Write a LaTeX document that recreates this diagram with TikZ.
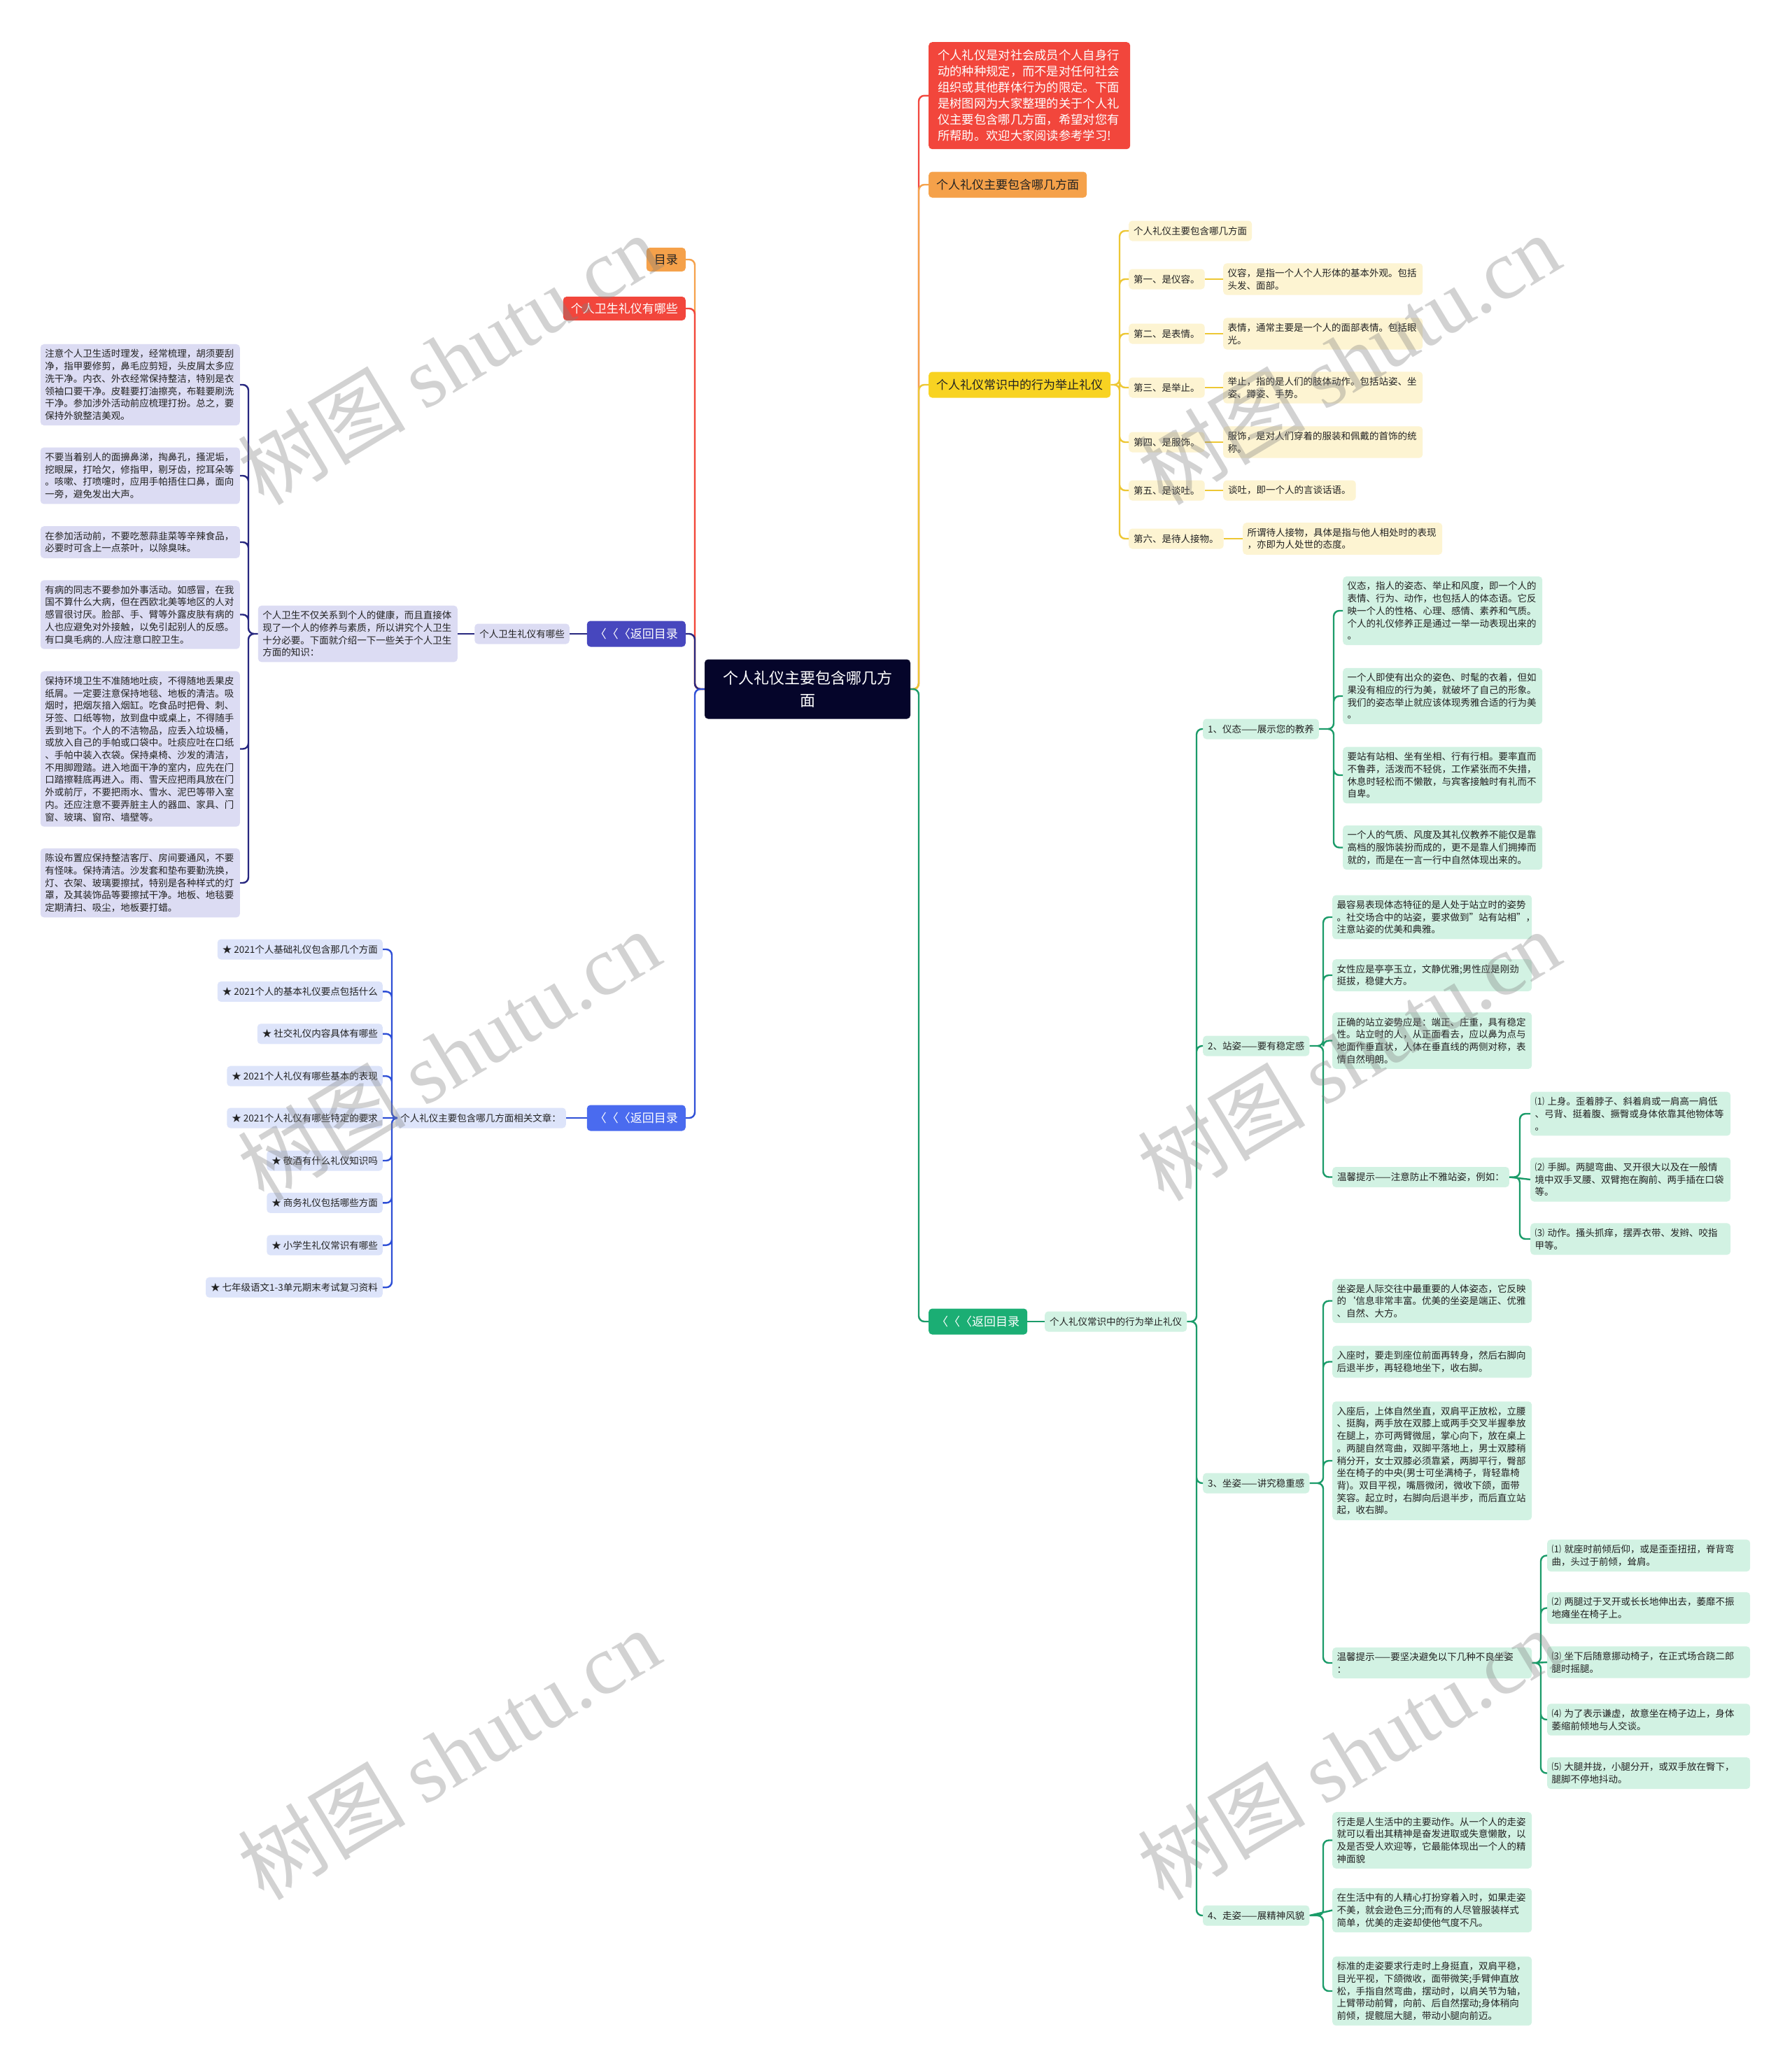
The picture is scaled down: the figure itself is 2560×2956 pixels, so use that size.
\documentclass[tikz,border=0pt]{standalone}
\usepackage{fontspec}
\setmainfont{Noto Sans CJK SC}
\newfontfamily\wmfont{Liberation Serif}
\usepackage{tikz}

\definecolor{rootbg}{HTML}{05052A}
\definecolor{redbg}{HTML}{F2463C}
\definecolor{orangebg}{HTML}{F5A14A}
\definecolor{yellowbg}{HTML}{F8D322}
\definecolor{yellowline}{HTML}{EDC734}
\definecolor{yellowpale}{HTML}{FDF4D2}
\definecolor{greenbg}{HTML}{1BAE74}
\definecolor{greenline}{HTML}{1B9B69}
\definecolor{greenpale}{HTML}{D2F2E3}
\definecolor{indigobg}{HTML}{4747BE}
\definecolor{indigoline}{HTML}{27277F}
\definecolor{indigopale}{HTML}{DCDCF3}
\definecolor{bluebg}{HTML}{4A6BEF}
\definecolor{blueline}{HTML}{2E4FD6}
\definecolor{bluepale}{HTML}{DDE4FA}
\definecolor{inkdark}{HTML}{222222}

\tikzset{
  box/.style={rounded corners=5pt, inner xsep=7pt, inner ysep=7.5pt, text=inkdark,
    font=\fontsize{13.5}{17.7}\selectfont, minimum height=29pt},
  para/.style={box, text width=272pt, align=left, inner xsep=6.5pt},
  mainbox/.style={rounded corners=5pt, inner xsep=11pt, text=inkdark,
    font=\fontsize{17}{21}\selectfont, minimum height=37pt},
  link/.style={line width=2.4pt, rounded corners=8pt},
  wmark/.style={rotate=31, text=black!50, text opacity=0.35, font=\fontsize{120}{120}\selectfont}
}

\begin{document}
\begin{tikzpicture}[x=1pt, y=-1pt]
\fill[white] (0,0) rectangle (2560,2956);
\useasboundingbox (0,0) rectangle (2560,2956);

% root
\node[fill=rootbg, text=white, rounded corners=5pt, font=\fontsize{22}{32}\selectfont,
  text width=270pt, align=center, inner xsep=12pt, minimum height=85pt] (root) at (1154,985)
  {个人礼仪主要包含哪几方\\面};
\coordinate (rootr) at (1313,985);
\coordinate (rootl) at (993,985);

% right main branches
\node[mainbox, fill=redbg, text=white, text width=262pt, align=left, inner xsep=13pt, inner ysep=9pt,
  font=\fontsize{17.3}{23}\selectfont, minimum height=153pt, anchor=north west] (intro) at (1327,60)
  {个人礼仪是对社会成员个人自身行\\动的种种规定，而不是对任何社会\\组织或其他群体行为的限定。下面\\是树图网为大家整理的关于个人礼\\仪主要包含哪几方面，希望对您有\\所帮助。欢迎大家阅读参考学习!};
\node[mainbox, fill=orangebg, anchor=west] (mainsub) at (1327,264) {个人礼仪主要包含哪几方面};
\node[mainbox, fill=yellowbg, anchor=west] (habit) at (1327,550) {个人礼仪常识中的行为举止礼仪};
\node[mainbox, fill=greenbg, text=white, anchor=west] (backg) at (1327,1889) {〈〈〈返回目录};

% left main branches
\node[mainbox, fill=orangebg, anchor=east, minimum height=34pt] (toc) at (980,371) {目录};
\node[mainbox, fill=redbg, text=white, anchor=east, minimum height=34pt] (hyg) at (980,441) {个人卫生礼仪有哪些};
\node[mainbox, fill=indigobg, text=white, anchor=east] (backi) at (980,906) {〈〈〈返回目录};
\node[mainbox, fill=bluebg, text=white, anchor=east] (backb) at (980,1598) {〈〈〈返回目录};

% personal hygiene group
\node[box, fill=indigopale, anchor=east] (hygsub) at (814,906) {个人卫生礼仪有哪些};
\node[para, fill=indigopale, anchor=east] (hygintro) at (654,906)
  {个人卫生不仅关系到个人的健康，而且直接体\\现了一个人的修养与素质，所以讲究个人卫生\\十分必要。下面就介绍一下一些关于个人卫生\\方面的知识：};
\coordinate (hygx) at (355,906);
\node[para, fill=indigopale, anchor=east] (hyg1) at (343,550)
  {注意个人卫生适时理发，经常梳理，胡须要刮\\净，指甲要修剪，鼻毛应剪短，头皮屑太多应\\洗干净。内衣、外衣经常保持整洁，特别是衣\\领袖口要干净。皮鞋要打油擦亮，布鞋要刷洗\\干净。参加涉外活动前应梳理打扮。总之，要\\保持外貌整洁美观。};
\node[para, fill=indigopale, anchor=east] (hyg2) at (343,680)
  {不要当着别人的面擤鼻涕，掏鼻孔，搔泥垢，\\挖眼屎，打哈欠，修指甲，剔牙齿，挖耳朵等\\。咳嗽、打喷嚏时，应用手帕捂住口鼻，面向\\一旁，避免发出大声。};
\node[para, fill=indigopale, anchor=east] (hyg3) at (343,775)
  {在参加活动前，不要吃葱蒜韭菜等辛辣食品，\\必要时可含上一点茶叶，以除臭味。};
\node[para, fill=indigopale, anchor=east] (hyg4) at (343,878.5)
  {有病的同志不要参加外事活动。如感冒，在我\\国不算什么大病，但在西欧北美等地区的人对\\感冒很讨厌。脸部、手、臂等外露皮肤有病的\\人也应避免对外接触，以免引起别人的反感。\\有口臭毛病的.人应注意口腔卫生。};
\node[para, fill=indigopale, anchor=east] (hyg5) at (343,1070.5)
  {保持环境卫生不准随地吐痰，不得随地丢果皮\\纸屑。一定要注意保持地毯、地板的清洁。吸\\烟时，把烟灰揞入烟缸。吃食品时把骨、刺、\\牙签、口纸等物，放到盘中或桌上，不得随手\\丢到地下。个人的不洁物品，应丢入垃圾桶，\\或放入自己的手帕或口袋中。吐痰应吐在口纸\\、手帕中装入衣袋。保持桌椅、沙发的清洁，\\不用脚蹬踏。进入地面干净的室内，应先在门\\口踏擦鞋底再进入。雨、雪天应把雨具放在门\\外或前厅，不要把雨水、雪水、泥巴等带入室\\内。还应注意不要弄脏主人的器皿、家具、门\\窗、玻璃、窗帘、墙壁等。};
\node[para, fill=indigopale, anchor=east] (hyg6) at (343,1262)
  {陈设布置应保持整洁客厅、房间要通风，不要\\有怪味。保持清洁。沙发套和垫布要勤洗换，\\灯、衣架、玻璃要擦拭，特别是各种样式的灯\\罩，及其装饰品等要擦拭干净。地板、地毯要\\定期清扫、吸尘，地板要打蜡。};

% related articles group
\node[box, fill=bluepale, anchor=east] (artsub) at (809,1598) {个人礼仪主要包含哪几方面相关文章：};
\coordinate (artx) at (560,1598);
\node[box, fill=bluepale, anchor=east] (art1) at (547,1357) {★ 2021个人基础礼仪包含那几个方面};
\node[box, fill=bluepale, anchor=east] (art2) at (547,1417.4) {★ 2021个人的基本礼仪要点包括什么};
\node[box, fill=bluepale, anchor=east] (art3) at (547,1477.8) {★ 社交礼仪内容具体有哪些};
\node[box, fill=bluepale, anchor=east] (art4) at (547,1538.2) {★ 2021个人礼仪有哪些基本的表现};
\node[box, fill=bluepale, anchor=east] (art5) at (547,1598) {★ 2021个人礼仪有哪些特定的要求};
\node[box, fill=bluepale, anchor=east] (art6) at (547,1659) {★ 敬酒有什么礼仪知识吗};
\node[box, fill=bluepale, anchor=east] (art7) at (547,1719.4) {★ 商务礼仪包括哪些方面};
\node[box, fill=bluepale, anchor=east] (art8) at (547,1779.8) {★ 小学生礼仪常识有哪些};
\node[box, fill=bluepale, anchor=east] (art9) at (547,1840.2) {★ 七年级语文1-3单元期末考试复习资料};

% six aspects group
\coordinate (habitx) at (1600,550);
\node[box, fill=yellowpale, anchor=west] (asp0) at (1613,330) {个人礼仪主要包含哪几方面};
\node[box, fill=yellowpale, anchor=west] (asp1) at (1613,399) {第一、是仪容。};
\node[box, fill=yellowpale, anchor=west] (asp2) at (1613,477) {第二、是表情。};
\node[box, fill=yellowpale, anchor=west] (asp3) at (1613,554) {第三、是举止。};
\node[box, fill=yellowpale, anchor=west] (asp4) at (1613,632) {第四、是服饰。};
\node[box, fill=yellowpale, anchor=west] (asp5) at (1613,701) {第五、是谈吐。};
\node[box, fill=yellowpale, anchor=west] (asp6) at (1613,770) {第六、是待人接物。};
\node[para, fill=yellowpale, anchor=west] (aspt1) at (1748,399) {仪容，是指一个人个人形体的基本外观。包括\\头发、面部。};
\node[para, fill=yellowpale, anchor=west] (aspt2) at (1748,477) {表情，通常主要是一个人的面部表情。包括眼\\光。};
\node[para, fill=yellowpale, anchor=west] (aspt3) at (1748,554) {举止，指的是人们的肢体动作。包括站姿、坐\\姿、蹲姿、手势。};
\node[para, fill=yellowpale, anchor=west] (aspt4) at (1748,632) {服饰，是对人们穿着的服装和佩戴的首饰的统\\称。};
\node[box, fill=yellowpale, anchor=west] (aspt5) at (1748,701) {谈吐，即一个人的言谈话语。};
\node[para, fill=yellowpale, anchor=west] (aspt6) at (1776,770) {所谓待人接物，具体是指与他人相处时的表现\\，亦即为人处世的态度。};

% behaviour group
\node[box, fill=greenpale, anchor=west] (gsub) at (1493,1889) {个人礼仪常识中的行为举止礼仪};
\coordinate (gsubx) at (1710,1889);
\node[box, fill=greenpale, anchor=west] (tai) at (1719,1042) {1、仪态——展示您的教养};
\node[box, fill=greenpale, anchor=west] (zhan) at (1719,1495) {2、站姿——要有稳定感};
\node[box, fill=greenpale, anchor=west] (zuo) at (1719,2120) {3、坐姿——讲究稳重感};
\node[box, fill=greenpale, anchor=west] (zou) at (1719,2738) {4、走姿——展精神风貌};

% 1 manner
\coordinate (taix) at (1906,1042);
\node[para, fill=greenpale, anchor=west] (tai1) at (1919,873)
  {仪态，指人的姿态、举止和风度，即一个人的\\表情、行为、动作，也包括人的体态语。它反\\映一个人的性格、心理、感情、素养和气质。\\个人的礼仪修养正是通过一举一动表现出来的\\。};
\node[para, fill=greenpale, anchor=west] (tai2) at (1919,995)
  {一个人即使有出众的姿色、时髦的衣着，但如\\果没有相应的行为美，就破坏了自己的形象。\\我们的姿态举止就应该体现秀雅合适的行为美\\。};
\node[para, fill=greenpale, anchor=west] (tai3) at (1919,1108)
  {要站有站相、坐有坐相、行有行相。要率直而\\不鲁莽，活泼而不轻佻，工作紧张而不失措，\\休息时轻松而不懒散，与宾客接触时有礼而不\\自卑。};
\node[para, fill=greenpale, anchor=west] (tai4) at (1919,1211.5)
  {一个人的气质、风度及其礼仪教养不能仅是靠\\高档的服饰装扮而成的，更不是靠人们拥捧而\\就的，而是在一言一行中自然体现出来的。};

% 2 standing
\coordinate (zhanx) at (1891,1495);
\node[para, fill=greenpale, anchor=west] (zhan1) at (1904,1311)
  {最容易表现体态特征的是人处于站立时的姿势\\。社交场合中的站姿，要求做到"站有站相"，\\注意站姿的优美和典雅。};
\node[para, fill=greenpale, anchor=west] (zhan2) at (1904,1394)
  {女性应是亭亭玉立，文静优雅;男性应是刚劲\\挺拔，稳健大方。};
\node[para, fill=greenpale, anchor=west] (zhan3) at (1904,1487.5)
  {正确的站立姿势应是：端正、庄重，具有稳定\\性。站立时的人，从正面看去，应以鼻为点与\\地面作垂直状，人体在垂直线的两侧对称，表\\情自然明朗。};
\node[box, fill=greenpale, anchor=west] (zhan4) at (1904,1682.5) {温馨提示——注意防止不雅站姿，例如：};
\coordinate (zhantipx) at (2172,1682.5);
\node[para, fill=greenpale, anchor=west, text width=273pt] (zhantip1) at (2187,1592)
  {⑴~上身。歪着脖子、斜着肩或一肩高一肩低\\、弓背、挺着腹、撅臀或身体依靠其他物体等\\。};
\node[para, fill=greenpale, anchor=west, text width=273pt] (zhantip2) at (2187,1686)
  {⑵~手脚。两腿弯曲、叉开很大以及在一般情\\境中双手叉腰、双臂抱在胸前、两手插在口袋\\等。};
\node[para, fill=greenpale, anchor=west, text width=273pt] (zhantip3) at (2187,1771)
  {⑶~动作。搔头抓痒，摆弄衣带、发辫、咬指\\甲等。};

% 3 sitting
\coordinate (zuox) at (1891,2120);
\node[para, fill=greenpale, anchor=west] (zuo1) at (1904,1859.5)
  {坐姿是人际交往中最重要的人体姿态，它反映\\的`信息非常丰富。优美的坐姿是端正、优雅\\、自然、大方。};
\node[para, fill=greenpale, anchor=west] (zuo2) at (1904,1946.5)
  {入座时，要走到座位前面再转身，然后右脚向\\后退半步，再轻稳地坐下，收右脚。};
\node[para, fill=greenpale, anchor=west] (zuo3) at (1904,2088)
  {入座后，上体自然坐直，双肩平正放松，立腰\\、挺胸，两手放在双膝上或两手交叉半握拳放\\在腿上，亦可两臂微屈，掌心向下，放在桌上\\。两腿自然弯曲，双脚平落地上，男士双膝稍\\稍分开，女士双膝必须靠紧，两脚平行，臀部\\坐在椅子的中央(男士可坐满椅子，背轻靠椅\\背)。双目平视，嘴唇微闭，微收下颌，面带\\笑容。起立时，右脚向后退半步，而后直立站\\起，收右脚。};
\node[para, fill=greenpale, anchor=west] (zuo4) at (1904,2377)
  {温馨提示——要坚决避免以下几种不良坐姿\\：};
\coordinate (zuotipx) at (2202,2377);
\node[para, fill=greenpale, anchor=west, text width=277pt] (zuotip1) at (2211,2223.5)
  {⑴~就座时前倾后仰，或是歪歪扭扭，脊背弯\\曲，头过于前倾，耸肩。};
\node[para, fill=greenpale, anchor=west, text width=277pt] (zuotip2) at (2211,2298.5)
  {⑵~两腿过于叉开或长长地伸出去，萎靡不振\\地瘫坐在椅子上。};
\node[para, fill=greenpale, anchor=west, text width=277pt] (zuotip3) at (2211,2376)
  {⑶~坐下后随意挪动椅子，在正式场合跷二郎\\腿时摇腿。};
\node[para, fill=greenpale, anchor=west, text width=277pt] (zuotip4) at (2211,2458)
  {⑷~为了表示谦虚，故意坐在椅子边上，身体\\萎缩前倾地与人交谈。};
\node[para, fill=greenpale, anchor=west, text width=277pt] (zuotip5) at (2211,2534.5)
  {⑸~大腿并拢，小腿分开，或双手放在臀下，\\腿脚不停地抖动。};

% 4 walking
\coordinate (zoux) at (1891,2738);
\node[para, fill=greenpale, anchor=west] (zou1) at (1904,2630.5)
  {行走是人生活中的主要动作。从一个人的走姿\\就可以看出其精神是奋发进取或失意懒散，以\\及是否受人欢迎等，它最能体现出一个人的精\\神面貌};
\node[para, fill=greenpale, anchor=west] (zou2) at (1904,2730.5)
  {在生活中有的人精心打扮穿着入时，如果走姿\\不美，就会逊色三分;而有的人尽管服装样式\\简单，优美的走姿却使他气度不凡。};
\node[para, fill=greenpale, anchor=west] (zou3) at (1904,2846)
  {标准的走姿要求行走时上身挺直，双肩平稳，\\目光平视，下颌微收，面带微笑;手臂伸直放\\松，手指自然弯曲，摆动时，以肩关节为轴，\\上臂带动前臂，向前、后自然摆动;身体稍向\\前倾，提髋屈大腿，带动小腿向前迈。};

% connectors from the root
\draw[link, redbg] (root.east) -- (rootr) |- (intro.west);
\draw[link, orangebg] (root.east) -- (rootr) |- (mainsub.west);
\draw[link, yellowline] (root.east) -- (rootr) |- (habit.west);
\draw[link, greenline] (root.east) -- (rootr) |- (backg.west);
\draw[link, orangebg] (root.west) -- (rootl) |- (toc.east);
\draw[link, redbg] (root.west) -- (rootl) |- (hyg.east);
\draw[link, indigoline] (root.west) -- (rootl) |- (backi.east);
\draw[link, blueline] (root.west) -- (rootl) |- (backb.east);

% connectors, left groups
\draw[link, indigoline] (backi.west) -- (hygsub.east) (hygsub.west) -- (hygintro.east);
\draw[link, indigoline] (hygintro.west) -- (hygx) |- (hyg1.east) (hygintro.west) -- (hygx) |- (hyg2.east)
  (hygintro.west) -- (hygx) |- (hyg3.east) (hygintro.west) -- (hygx) |- (hyg4.east)
  (hygintro.west) -- (hygx) |- (hyg5.east) (hygintro.west) -- (hygx) |- (hyg6.east);
\draw[link, blueline] (backb.west) -- (artsub.east);
\draw[link, blueline] (artsub.west) -- (artx) |- (art1.east) (artsub.west) -- (artx) |- (art2.east)
  (artsub.west) -- (artx) |- (art3.east) (artsub.west) -- (artx) |- (art4.east)
  (artsub.west) -- (art5.east) (artsub.west) -- (artx) |- (art6.east)
  (artsub.west) -- (artx) |- (art7.east) (artsub.west) -- (artx) |- (art8.east)
  (artsub.west) -- (artx) |- (art9.east);

% connectors, six aspects
\draw[link, yellowline] (habit.east) -- (habitx) |- (asp0.west) (habit.east) -- (habitx) |- (asp1.west)
  (habit.east) -- (habitx) |- (asp2.west) (habit.east) -- (habitx) |- (asp3.west)
  (habit.east) -- (habitx) |- (asp4.west) (habit.east) -- (habitx) |- (asp5.west)
  (habit.east) -- (habitx) |- (asp6.west);
\draw[link, yellowline] (asp1.east) -- (aspt1.west) (asp2.east) -- (aspt2.west) (asp3.east) -- (aspt3.west)
  (asp4.east) -- (aspt4.west) (asp5.east) -- (aspt5.west) (asp6.east) -- (aspt6.west);

% connectors, behaviour
\draw[link, greenline] (backg.east) -- (gsub.west);
\draw[link, greenline] (gsub.east) -- (gsubx) |- (tai.west) (gsub.east) -- (gsubx) |- (zhan.west)
  (gsub.east) -- (gsubx) |- (zuo.west) (gsub.east) -- (gsubx) |- (zou.west);
\draw[link, greenline] (tai.east) -- (taix) |- (tai1.west) (tai.east) -- (taix) |- (tai2.west)
  (tai.east) -- (taix) |- (tai3.west) (tai.east) -- (taix) |- (tai4.west);
\draw[link, greenline] (zhan.east) -- (zhanx) |- (zhan1.west) (zhan.east) -- (zhanx) |- (zhan2.west)
  (zhan.east) -- (zhanx) |- (zhan3.west) (zhan.east) -- (zhanx) |- (zhan4.west);
\draw[link, greenline] (zhan4.east) -- (zhantipx) |- (zhantip1.west) (zhan4.east) -- (zhantip2.west)
  (zhan4.east) -- (zhantipx) |- (zhantip3.west);
\draw[link, greenline] (zuo.east) -- (zuox) |- (zuo1.west) (zuo.east) -- (zuox) |- (zuo2.west)
  (zuo.east) -- (zuox) |- (zuo3.west) (zuo.east) -- (zuox) |- (zuo4.west);
\draw[link, greenline] (zuo4.east) -- (zuotipx) |- (zuotip1.west) (zuo4.east) -- (zuotipx) |- (zuotip2.west)
  (zuo4.east) -- (zuotip3.west) (zuo4.east) -- (zuotipx) |- (zuotip4.west)
  (zuo4.east) -- (zuotipx) |- (zuotip5.west);
\draw[link, greenline] (zou.east) -- (zoux) |- (zou1.west) (zou.east) -- (zou2.west)
  (zou.east) -- (zoux) |- (zou3.west);

% watermarks
\node[wmark] (wm1) at (641,513) {树图 {\wmfont shutu.cn}};
\node[wmark] (wm2) at (1927,513) {树图 {\wmfont shutu.cn}};
\node[wmark] (wm3) at (641,1508) {树图 {\wmfont shutu.cn}};
\node[wmark] (wm4) at (1927,1508) {树图 {\wmfont shutu.cn}};
\node[wmark] (wm5) at (641,2507) {树图 {\wmfont shutu.cn}};
\node[wmark] (wm6) at (1927,2507) {树图 {\wmfont shutu.cn}};
\end{tikzpicture}
\end{document}
